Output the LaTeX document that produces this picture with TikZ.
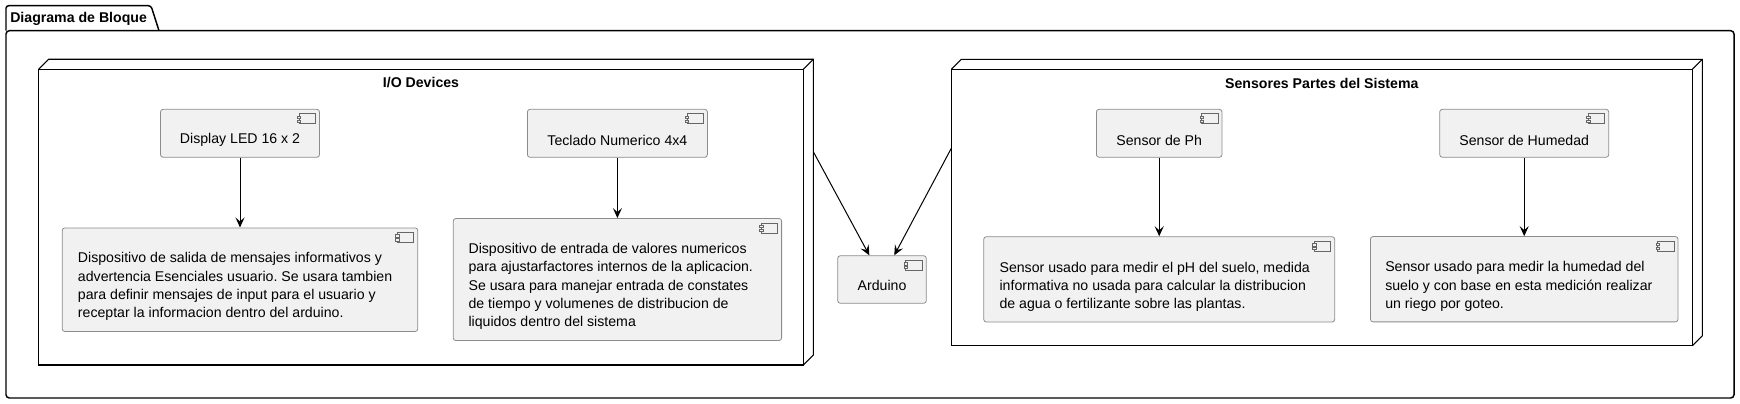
\documentclass[tikz,border=0pt]{standalone}
\usepackage{fontspec}
\setmainfont{Liberation Sans}
\usetikzlibrary{arrows.meta}
\definecolor{boxfill}{RGB}{241,241,241}
\definecolor{boxline}{RGB}{140,140,140}
\frenchspacing

\begin{document}
\begin{tikzpicture}[x=0.75pt,y=-0.75pt,
    every node/.style={font=\fontsize{10.6}{13.7}\selectfont},
    comp/.style={draw=boxline,fill=boxfill,line width=0.6pt,rounded corners=2pt,minimum height=36pt,inner sep=0pt},
    devnode/.style={draw,line width=0.8pt,inner sep=0pt,outer sep=0pt},
    ttl/.style={font=\fontsize{10.6}{13.7}\selectfont\bfseries},
    txt/.style={align=left,inner sep=0pt,anchor=west},
    icon/.style={draw=black!60,fill=boxfill,line width=0.45pt},
    arr/.style={-{Stealth[length=7.5pt,width=6.75pt,inset=3pt]},line width=0.75pt}]
        \useasboundingbox (0,0) rectangle (1740,403);
        \draw[line width=1.1pt,rounded corners=2pt] (6,30.7) -- (6,5.7) -- (151,5.7) -- (159,30.7);
        \draw[line width=1.1pt,rounded corners=2.5pt] (6,30.7) rectangle (1734,398);
        \node[ttl,anchor=west,inner sep=0pt](pkgt) at (10,18.5) {Diagrama de Bloque};
        \node[devnode,minimum width=573.45pt,minimum height=221.8pt](io) at (421,217.15) {};
        \node[devnode,minimum width=555.75pt,minimum height=207.3pt](sens) at (1321.8,207.5) {};
        \foreach \n in {io,sens} {
            \draw[line width=0.8pt] (\n.north west) -- ++(10,-10) -| ([shift={(10,-10)}]\n.south east) -- (\n.south east);
            \draw[line width=0.8pt] (\n.north east) -- ++(10,-10);
        }
        \node[ttl](iot) at (421,83) {I/O Devices};
        \node[ttl](senst) at (1321.8,83) {Sensores Partes del Sistema};
        \node[comp,minimum width=119.25pt](disp) at (240,133.3) {};
        \node(dispt) at (240,140.3) {Display LED 16 x 2};
        \node[comp,minimum width=135pt](tec) at (617.4,133.3) {};
        \node(tect) at (617.4,140.3) {Teclado Numerico 4x4};
        \node[comp,minimum width=266.7pt,minimum height=77.7pt](d1) at (240,279.7) {};
        \node[txt](d1t) at (77.7,286.7) {Dispositivo de salida de mensajes informativos y\\advertencia Esenciales usuario. Se usara tambien\\para definir mensajes de input para el usuario y\\receptar la informacion dentro del arduino.};
        \node[comp,minimum width=246.3pt,minimum height=91.5pt](d2) at (617.4,279.5) {};
        \node[txt](d2t) at (468.3,286.5) {Dispositivo de entrada de valores numericos\\para ajustarfactores internos de la aplicacion.\\Se usara para manejar entrada de constates\\de tiempo y volumenes de distribucion de\\liquidos dentro del sistema};
        \node[comp,minimum width=66.45pt,minimum height=35.7pt](ard) at (882,279.5) {};
        \node(ardt) at (882,285.5) {Arduino};
        \node[comp,minimum width=94.2pt](ph) at (1159.2,133.3) {};
        \node(pht) at (1159.2,140.3) {Sensor de Ph};
        \node[comp,minimum width=126.75pt](hum) at (1524.2,133.3) {};
        \node(humt) at (1524.2,140.3) {Sensor de Humedad};
        \node[comp,minimum width=263.25pt,minimum height=64pt](d3) at (1159.2,279.35) {};
        \node[txt](d3t) at (999.3,286.7) {Sensor usado para medir el pH del suelo, medida\\informativa no usada para calcular la distribucion\\de agua o fertilizante sobre las plantas.};
        \node[comp,minimum width=230.7pt,minimum height=64pt](d4) at (1524.2,279.2) {};
        \node[txt](d4t) at (1385,286.5) {Sensor usado para medir la humedad del\\suelo y con base en esta medición realizar\\un riego por goteo.};
        \foreach \n in {disp,tec,d1,d2,ard,ph,hum,d3,d4} {
            \draw[icon] ([shift={(-21,4.7)}]\n.north east) rectangle ([shift={(-4.6,14.7)}]\n.north east);
            \draw[icon] ([shift={(-22.6,7.2)}]\n.north east) rectangle ([shift={(-19.2,9.6)}]\n.north east);
            \draw[icon] ([shift={(-22.6,11)}]\n.north east) rectangle ([shift={(-19.2,13.4)}]\n.north east);
        }
        \draw[arr](disp)--(d1);
        \draw[arr](tec)--(d2);
        \draw[arr](ph)--(d3);
        \draw[arr](hum)--(d4);
        \draw[arr]([shift={(10,82.4)}]io.north east)--([xshift=-9.5pt]ard.north);
        \draw[arr]([shift={(0,79)}]sens.north west)--([xshift=9.2pt]ard.north);
        \end{tikzpicture}
\end{document}
